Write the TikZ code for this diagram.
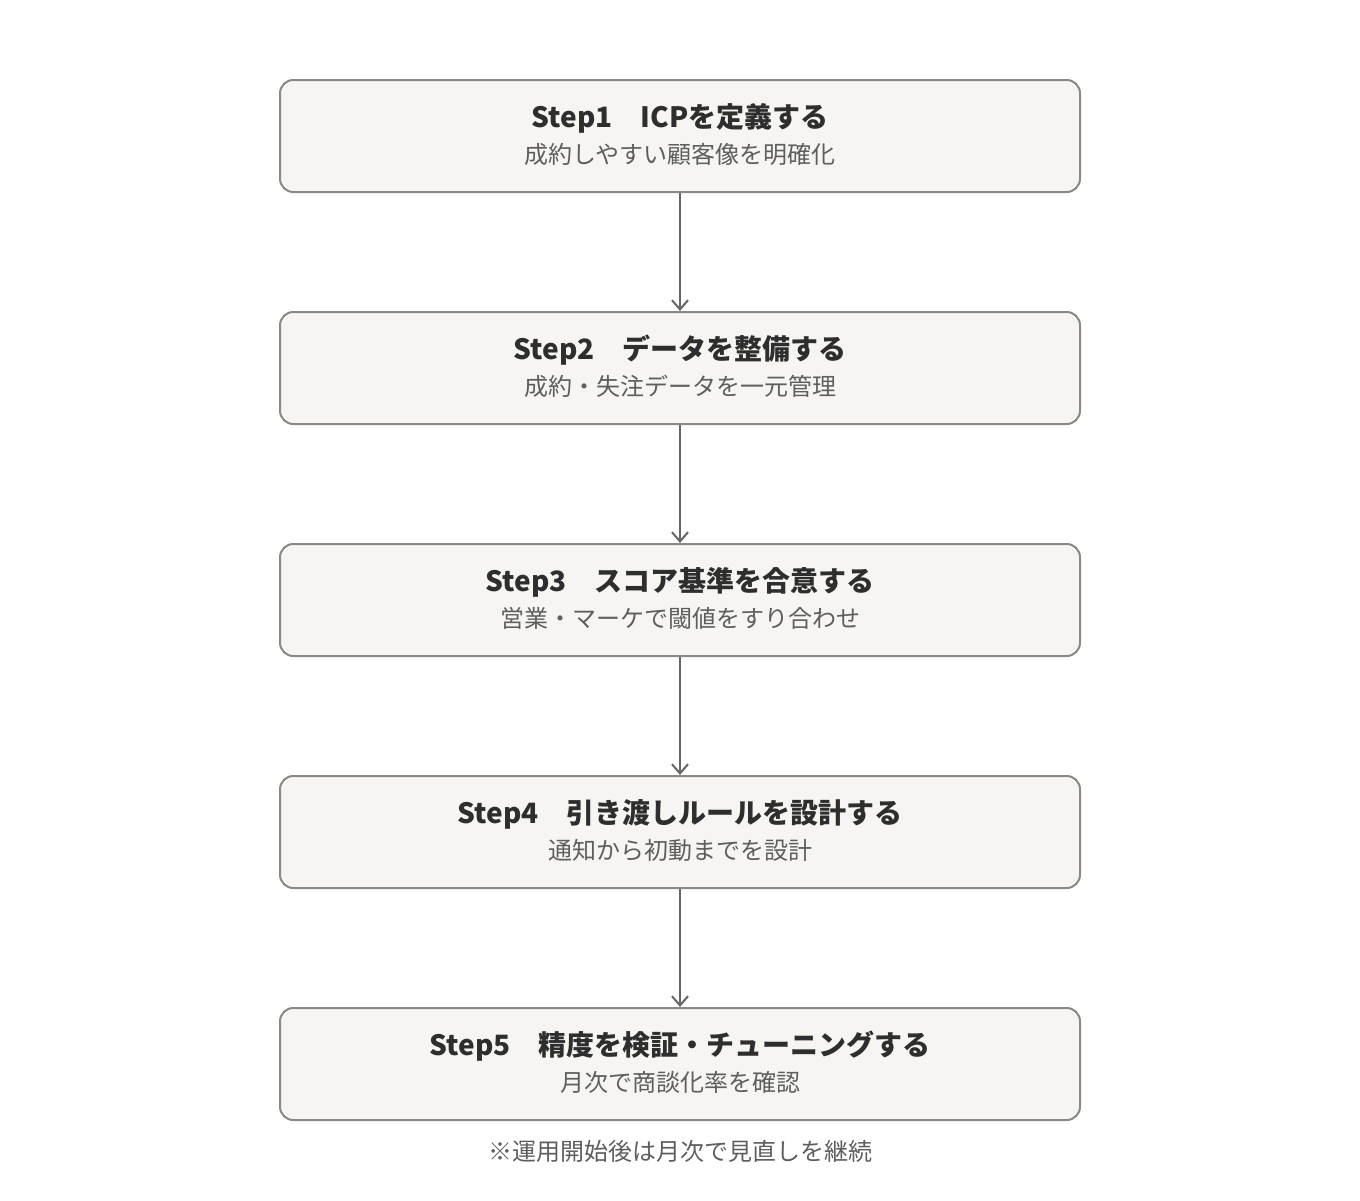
\documentclass[tikz,border=0pt]{standalone}
\usepackage{fontspec}
\setmainfont{Noto Sans CJK JP}
\usepackage{tikz}
\usetikzlibrary{positioning, arrows.meta}
\definecolor{boxfill}{HTML}{F6F5F2}
\definecolor{boxline}{HTML}{8A8985}
\definecolor{titletext}{HTML}{2E2E2E}
\definecolor{subtext}{HTML}{5E5E5E}
\definecolor{arrowline}{HTML}{666666}
\tikzset{x=0.75pt, y=-0.75pt,
  stepbox/.style={draw=boxline, line width=1.5pt, fill=boxfill, rounded corners=10pt, minimum width=600pt, minimum height=84pt, inner sep=0pt},
  steptitle/.style={text=titletext, font=\fontsize{21}{25}\selectfont\bfseries, inner sep=0pt},
  stepsub/.style={text=subtext, font=\fontsize{18}{22}\selectfont, inner sep=0pt},
  flow/.style={draw=arrowline, line width=1.5pt, -{Straight Barb[length=7pt, width=12pt, line width=1.5pt]}},
}

\begin{document}
\begin{tikzpicture}
        \useasboundingbox (0,0) rectangle (1360,1200);
        \node[stepbox] at (680,136) (s1) {};
        \node[stepbox] at (680,368) (s2) {};
        \node[stepbox] at (680,600) (s3) {};
        \node[stepbox] at (680,832) (s4) {};
        \node[stepbox] at (680,1064) (s5) {};

        \node[steptitle] at (680,118) (s1t) {Step1　ICPを定義する};
        \node[stepsub] at (680,154) (s1s) {成約しやすい顧客像を明確化};
        \node[steptitle] at (680,350) (s2t) {Step2　データを整備する};
        \node[stepsub] at (680,386) (s2s) {成約・失注データを一元管理};
        \node[steptitle] at (680,582) (s3t) {Step3　スコア基準を合意する};
        \node[stepsub] at (680,618) (s3s) {営業・マーケで閾値をすり合わせ};
        \node[steptitle] at (680,814) (s4t) {Step4　引き渡しルールを設計する};
        \node[stepsub] at (680,850) (s4s) {通知から初動までを設計};
        \node[steptitle] at (680,1046) (s5t) {Step5　精度を検証・チューニングする};
        \node[stepsub] at (680,1082) (s5s) {月次で商談化率を確認};

        \node[stepsub] at (680,1151) (note) {※運用開始後は月次で見直しを継続};

        \draw[flow] (s1) -- (s2);
        \draw[flow] (s2) -- (s3);
        \draw[flow] (s3) -- (s4);
        \draw[flow] (s4) -- (s5);
    \end{tikzpicture}
\end{document}
